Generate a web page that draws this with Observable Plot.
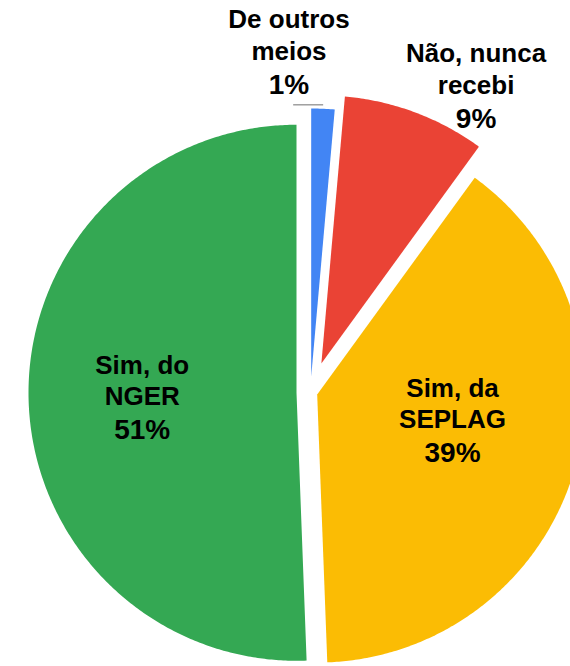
<!DOCTYPE html>
<html><head><meta charset="utf-8">
<script src="https://cdn.jsdelivr.net/npm/d3@7"></script>
<script src="https://cdn.jsdelivr.net/npm/@observablehq/plot@0.6"></script>
<style>html,body{margin:0;padding:0;background:#fff}#chart svg{display:block}</style>
</head><body><div id="chart"></div>
<script>
// ---- data ----
const categories = ["De outros meios", "Não, nunca recebi", "Sim, da SEPLAG", "Sim, do NGER"];
const labelLines = [["De outros", "meios"], ["Não, nunca", "recebi"], ["Sim, da", "SEPLAG"], ["Sim, do", "NGER"]];
const shares = [1.4, 8.6, 39.4, 50.6];
const colors = ["#4285f4", "#ea4335", "#fbbc04", "#34a853"];

// ---- style / layout ----
const W = 570, H = 666, CX = 310, CY = 392, R = 268;
const explode = [16, 31, 7, 14];
const labelPlace = [
  {angle: -3.7, dist: 333.4},
  {angle: 29, dist: 341.5},
  {angle: 104.2, dist: 146.5},
  {angle: 265.6, dist: 168.8}
];
const pctGap = 34;
const font = "'Liberation Sans', Arial, sans-serif";

const arcs = d3.pie().sort(null).value(d => d)(shares);
const slicePts = [];
const sliceInfo = arcs.map((a, i) => {
  const mid = (a.startAngle + a.endAngle) / 2;
  const ox = explode[i] * Math.sin(mid), oy = -explode[i] * Math.cos(mid);
  const name = categories[i];
  slicePts.push({name, x: ox, y: oy});
  const n = Math.max(4, Math.ceil((a.endAngle - a.startAngle) / (Math.PI / 360)));
  for (let k = 0; k <= n; k++) {
    const t = a.startAngle + (a.endAngle - a.startAngle) * k / n;
    slicePts.push({name, x: ox + R * Math.sin(t), y: oy - R * Math.cos(t)});
  }
  slicePts.push({name, x: ox, y: oy});
  const lp = labelPlace[i], la = lp.angle * Math.PI / 180;
  return {
    name, value: shares[i], mid, ox, oy,
    lx: lp.dist * Math.sin(la), ly: -lp.dist * Math.cos(la),
    text: labelLines[i].join("\n"),
    pct: Math.round(shares[i]) + "%"
  };
});

// leader line for the smallest slice
const b = sliceInfo[0];
const leader = [{
  x1: b.ox + (R + 4) * Math.sin(b.mid), y1: b.oy - (R + 4) * Math.cos(b.mid),
  x2: b.ox + (R + 4) * Math.sin(b.mid) - 30, y2: b.oy - (R + 4) * Math.cos(b.mid)
}];

const chart = Plot.plot({
  width: W, height: H, margin: 0,
  x: {domain: [-CX, W - CX], range: [0, W], axis: null},
  y: {domain: [-CY, H - CY], range: [0, H], axis: null},
  color: {domain: categories, range: colors},
  marks: [
    Plot.line(slicePts, {x: "x", y: "y", z: "name", fill: "name", stroke: "none", curve: "linear"}),
    Plot.link(leader, {x1: "x1", y1: "y1", x2: "x2", y2: "y2", stroke: "#9e9e9e", strokeWidth: 1.5}),
    Plot.text(sliceInfo, {x: "lx", y: "ly", text: "text", lineAnchor: "bottom", lineHeight: 1.215,
      fontSize: 26, fontWeight: "bold", fontFamily: font, fill: "#000", textAnchor: "middle"}),
    Plot.text(sliceInfo, {x: "lx", y: d => d.ly + pctGap, text: "pct", lineAnchor: "bottom",
      fontSize: 28, fontWeight: "bold", fontFamily: font, fill: "#000", textAnchor: "middle"})
  ]
});
document.getElementById("chart").appendChild(chart);
</script>
</body></html>
